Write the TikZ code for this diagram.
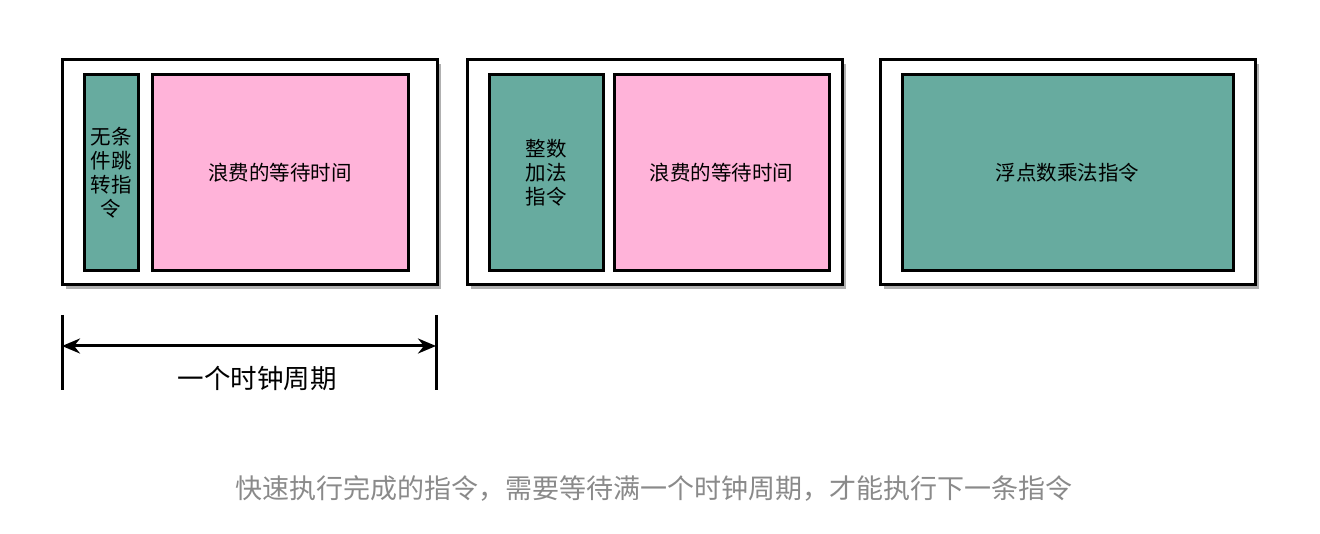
\documentclass[tikz,border=0pt]{standalone}
\usepackage{fontspec}
\setmainfont{Noto Sans CJK SC}
\usetikzlibrary{arrows.meta,positioning}
\definecolor{tealc}{HTML}{67AB9F}
\definecolor{pinkc}{HTML}{FFB3D9}
\definecolor{capgray}{HTML}{8A8A8A}
\definecolor{shadowc}{HTML}{B0B0B0}
\tikzset{
  outerbox/.style={draw=black, line width=3pt, fill=white, minimum width=375pt, minimum height=225pt, inner sep=0pt},
  tealbox/.style={draw=black, line width=3pt, fill=tealc, inner sep=0pt, align=center, font=\fontsize{20.5}{24}\selectfont},
  pinkbox/.style={draw=black, line width=3pt, fill=pinkc, inner sep=0pt, align=center, font=\fontsize{20.5}{24}\selectfont},
  tick/.style={line width=3pt},
}
\begin{document}
\begin{tikzpicture}[x=1pt,y=-1pt]
\useasboundingbox (0,0) rectangle (1320,534);
% shadows
\foreach \xa in {62,467,880}{
  \fill[shadowc] (\xa+4,64) rectangle (\xa+379,289);
}
% outer boxes
\node[outerbox] (o1) at (249.5,172.5) {};
\node[outerbox] (o2) at (654.5,172.5) {};
\node[outerbox] (o3) at (1067.5,172.5) {};
% box 1
\node[tealbox, minimum width=54pt, minimum height=196pt] (t1) at (111,172.5) {无条\\件跳\\转指\\令};
\node[pinkbox, minimum width=256pt, minimum height=196pt] (p1) at (280,172.5) {浪费的等待时间};
% box 2
\node[tealbox, minimum width=114pt, minimum height=196pt] (t2) at (546,172.5) {整数\\加法\\指令};
\node[pinkbox, minimum width=215pt, minimum height=196pt] (p2) at (721.5,172.5) {浪费的等待时间};
% box 3
\node[tealbox, minimum width=331pt, minimum height=196pt] (t3) at (1067.5,172.5) {浮点数乘法指令};
% clock period
\coordinate (lt) at (62,315);
\coordinate (lb) at (62,390);
\coordinate (rt) at (436,315);
\coordinate (rb) at (436,390);
\coordinate (la) at (62,346);
\coordinate (ra) at (436,346);
\draw[tick] (lt) -- (lb);
\draw[tick] (rt) -- (rb);
\draw[line width=3pt, {Stealth[length=18pt,width=15pt]}-{Stealth[length=18pt,width=15pt]}] (la) -- (ra);
\node[font=\fontsize{26.5}{30}\selectfont] (cp) at (257,378) {一个时钟周期};
% caption
\node[font=\fontsize{27}{32}\selectfont, text=capgray] (cap) at (654,488) {快速执行完成的指令，需要等待满一个时钟周期，才能执行下一条指令};
\end{tikzpicture}
\end{document}
